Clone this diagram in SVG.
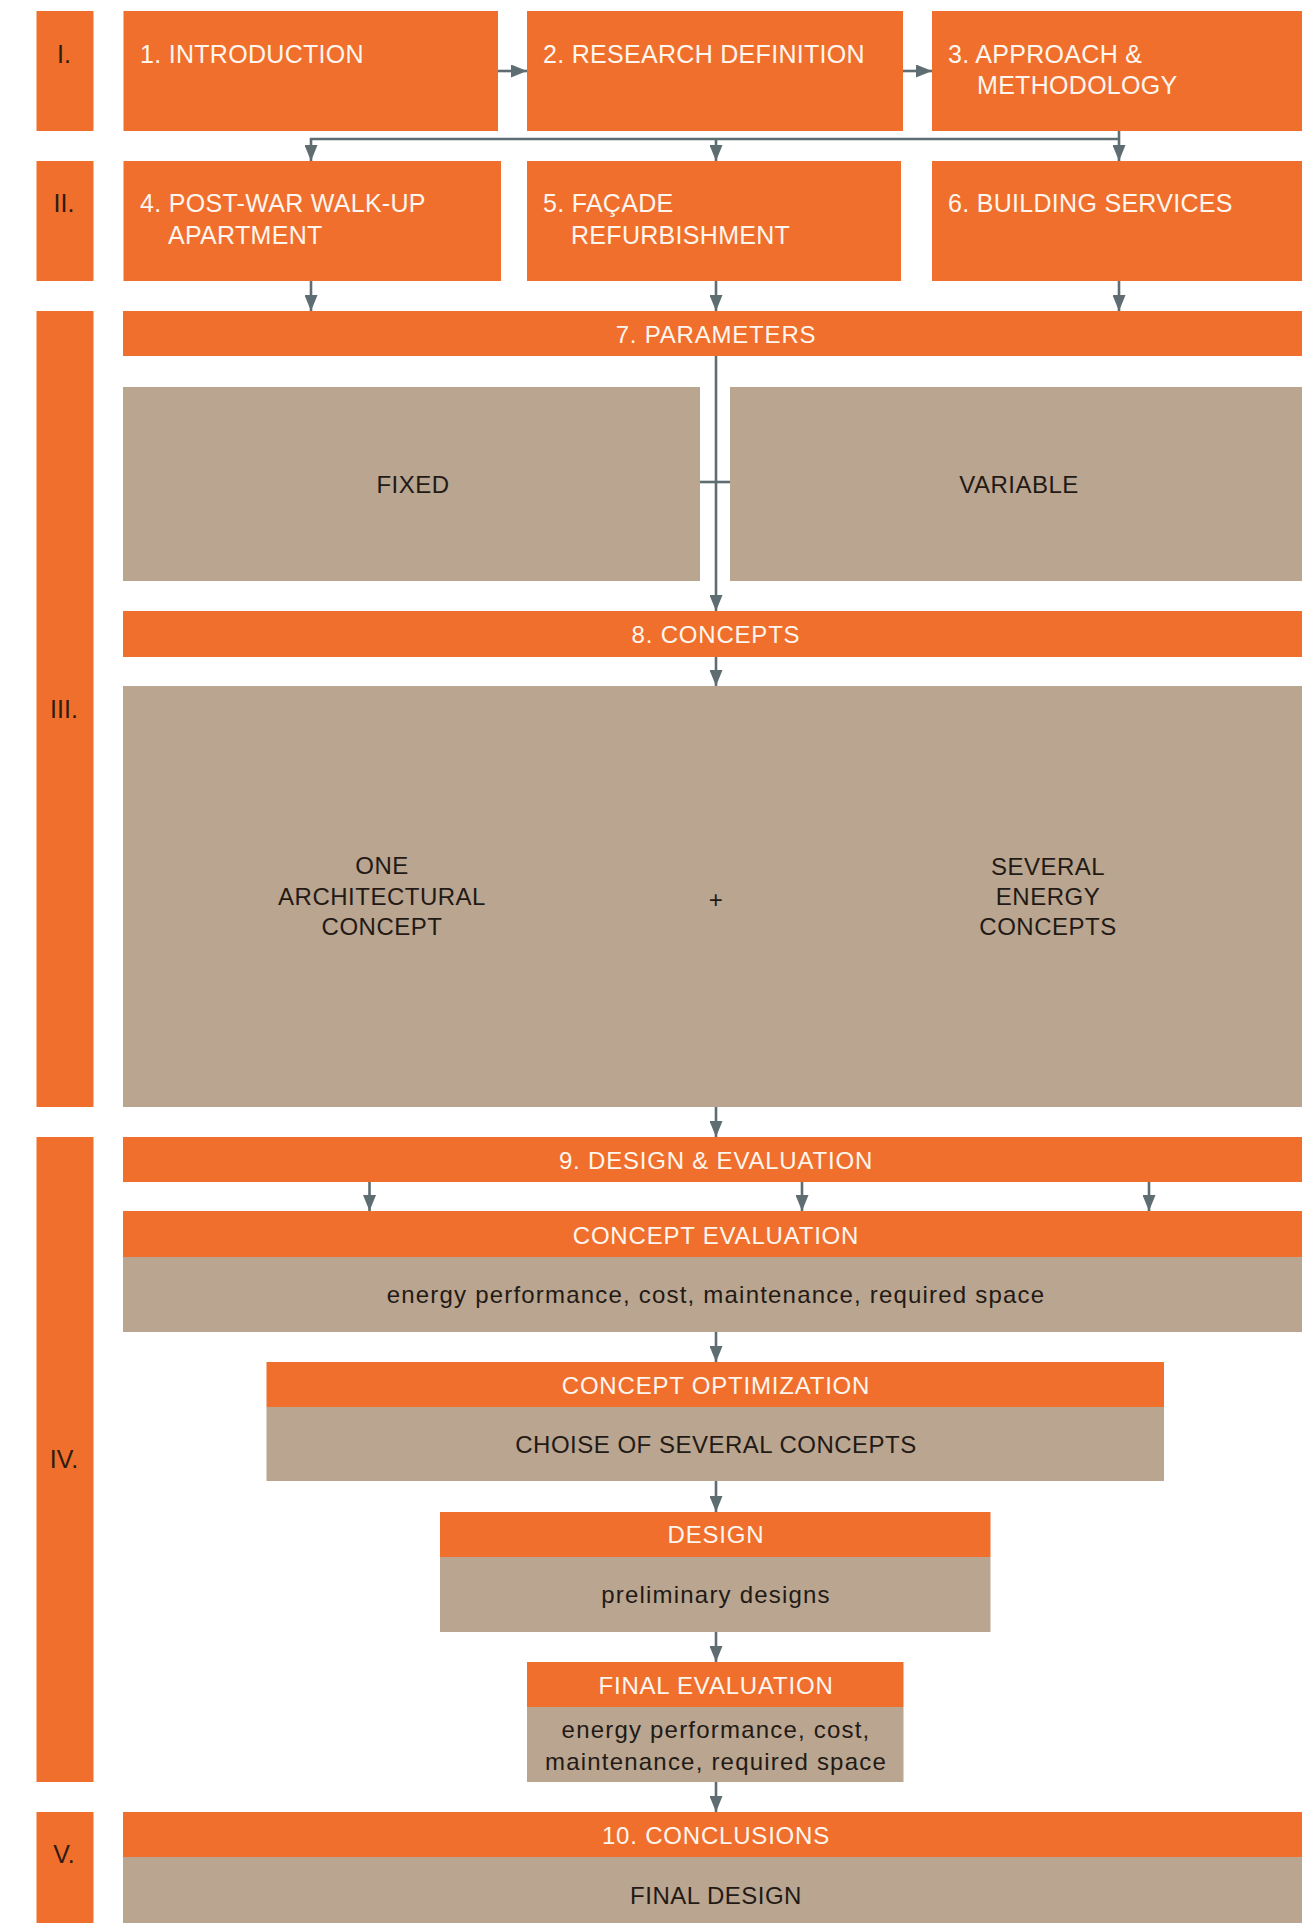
<svg xmlns="http://www.w3.org/2000/svg" width="1302" height="1923" viewBox="0 0 1302 1923">
<style>
.o{fill:#F06F2C}
.g{fill:#B9A590}
.t{font-family:"Liberation Sans",Arial,sans-serif;font-size:25px;fill:#FFF6EF;letter-spacing:0.3px}
.b{font-family:"Liberation Sans",Arial,sans-serif;font-size:24px;fill:#FFF6EF;text-anchor:middle;letter-spacing:0.8px}
.d{font-family:"Liberation Sans",Arial,sans-serif;font-size:24px;fill:#231A15;text-anchor:middle;letter-spacing:0.5px}
.l{letter-spacing:1.2px}
.r{font-family:"Liberation Sans",Arial,sans-serif;font-size:25px;fill:#2E1C12;text-anchor:middle}
.c{fill:none;stroke:#5E6D71;stroke-width:2.6}
</style>
<defs>
<marker id="ah" viewBox="0 0 16 13" refX="16" refY="6.5" markerWidth="16" markerHeight="13" orient="auto" markerUnits="userSpaceOnUse">
<path d="M0,0 L16,6.5 L0,13 z" fill="#5E6D71"/>
</marker>
</defs>
<rect width="1302" height="1923" fill="#FFFFFF"/>

<g id="phase-I"><rect class="o" x="36.5" y="11" width="57" height="120"/><text class="r" x="64" y="63">I.</text></g>
<g id="phase-II"><rect class="o" x="36.5" y="161" width="57" height="120"/><text class="r" x="64" y="212">II.</text></g>
<g id="phase-III"><rect class="o" x="36.5" y="311" width="57" height="796"/><text class="r" x="64" y="718">III.</text></g>
<g id="phase-IV"><rect class="o" x="36.5" y="1137" width="57" height="645"/><text class="r" x="64" y="1468">IV.</text></g>
<g id="phase-V"><rect class="o" x="36.5" y="1812" width="57" height="120"/><text class="r" x="64" y="1863">V.</text></g>

<g id="n1"><rect class="o" x="123.5" y="11" width="374.5" height="120"/><text class="t" x="140" y="63">1. INTRODUCTION</text></g>
<g id="n2"><rect class="o" x="527" y="11" width="376" height="120"/><text class="t" x="543" y="63">2. RESEARCH DEFINITION</text></g>
<g id="n3"><rect class="o" x="932" y="11" width="370" height="120"/><text class="t" x="948" y="63">3. APPROACH &amp;</text><text class="t" x="977" y="94">METHODOLOGY</text></g>

<g id="n4"><rect class="o" x="123.5" y="161" width="377.5" height="120"/><text class="t" x="140" y="212">4. POST-WAR WALK-UP</text><text class="t" x="168" y="244">APARTMENT</text></g>
<g id="n5"><rect class="o" x="527" y="161" width="374" height="120"/><text class="t" x="543" y="212">5. FAÇADE</text><text class="t" x="571" y="244">REFURBISHMENT</text></g>
<g id="n6"><rect class="o" x="932" y="161" width="370" height="120"/><text class="t" x="948" y="212">6. BUILDING SERVICES</text></g>

<g id="n7"><rect class="o" x="123" y="311" width="1179" height="45"/><text class="b" x="716" y="343">7. PARAMETERS</text></g>
<g id="fixed"><rect class="g" x="123" y="387" width="577" height="194"/><text class="d" x="413" y="493">FIXED</text></g>
<g id="variable"><rect class="g" x="730" y="387" width="572" height="194"/><text class="d" x="1019" y="493">VARIABLE</text></g>

<g id="n8"><rect class="o" x="123" y="611" width="1179" height="46"/><text class="b" x="716" y="643">8. CONCEPTS</text></g>
<g id="concepts"><rect class="g" x="123" y="686" width="1179" height="421"/>
<text class="d" x="382" y="874">ONE</text><text class="d" x="382" y="905">ARCHITECTURAL</text><text class="d" x="382" y="935">CONCEPT</text>
<text class="d" x="716" y="908">+</text>
<text class="d" x="1048" y="875">SEVERAL</text><text class="d" x="1048" y="905">ENERGY</text><text class="d" x="1048" y="935">CONCEPTS</text></g>

<g id="n9"><rect class="o" x="123" y="1137" width="1179" height="45"/><text class="b" x="716" y="1169">9. DESIGN &amp; EVALUATION</text></g>
<g id="concept-evaluation"><rect class="o" x="123" y="1211" width="1179" height="46"/><text class="b" x="716" y="1244">CONCEPT EVALUATION</text>
<rect class="g" x="123" y="1257" width="1179" height="75"/><text class="d l" x="716" y="1303">energy performance, cost, maintenance, required space</text></g>
<g id="concept-optimization"><rect class="o" x="266.5" y="1362" width="897.5" height="45"/><text class="b" x="716" y="1394">CONCEPT OPTIMIZATION</text>
<rect class="g" x="266.5" y="1407" width="897.5" height="74"/><text class="d" x="716" y="1453">CHOISE OF SEVERAL CONCEPTS</text></g>
<g id="design"><rect class="o" x="440" y="1512" width="550.5" height="45"/><text class="b" x="716" y="1543">DESIGN</text>
<rect class="g" x="440" y="1557" width="550.5" height="75"/><text class="d l" x="716" y="1603">preliminary designs</text></g>
<g id="final-evaluation"><rect class="o" x="527" y="1662" width="376.5" height="45"/><text class="b" x="716" y="1694">FINAL EVALUATION</text>
<rect class="g" x="527" y="1707" width="376.5" height="75"/><text class="d l" x="716" y="1738">energy performance, cost,</text><text class="d l" x="716" y="1770">maintenance, required space</text></g>
<g id="n10"><rect class="o" x="123" y="1812" width="1179" height="45"/><text class="b" x="716" y="1844">10. CONCLUSIONS</text>
<rect class="g" x="123" y="1857" width="1179" height="80"/><text class="d" x="716" y="1904">FINAL DESIGN</text></g>

<g id="connectors">
<path class="c" d="M498,71 H527" marker-end="url(#ah)"/>
<path class="c" d="M903,71 H932" marker-end="url(#ah)"/>
<path class="c" d="M1119,131 V161" marker-end="url(#ah)"/>
<path class="c" d="M1119,139 H311 V161" marker-end="url(#ah)"/>
<path class="c" d="M716,139 V161" marker-end="url(#ah)"/>
<path class="c" d="M311,281 V311" marker-end="url(#ah)"/>
<path class="c" d="M716,281 V311" marker-end="url(#ah)"/>
<path class="c" d="M1119,281 V311" marker-end="url(#ah)"/>
<path class="c" d="M716,356 V611" marker-end="url(#ah)"/>
<path class="c" d="M700,482 H730"/>
<path class="c" d="M716,657 V686" marker-end="url(#ah)"/>
<path class="c" d="M716,1107 V1137" marker-end="url(#ah)"/>
<path class="c" d="M369.5,1182 V1211" marker-end="url(#ah)"/>
<path class="c" d="M802,1182 V1211" marker-end="url(#ah)"/>
<path class="c" d="M1149,1182 V1211" marker-end="url(#ah)"/>
<path class="c" d="M716,1332 V1362" marker-end="url(#ah)"/>
<path class="c" d="M716,1481 V1512" marker-end="url(#ah)"/>
<path class="c" d="M716,1632 V1662" marker-end="url(#ah)"/>
<path class="c" d="M716,1782 V1812" marker-end="url(#ah)"/>
</g>
</svg>
